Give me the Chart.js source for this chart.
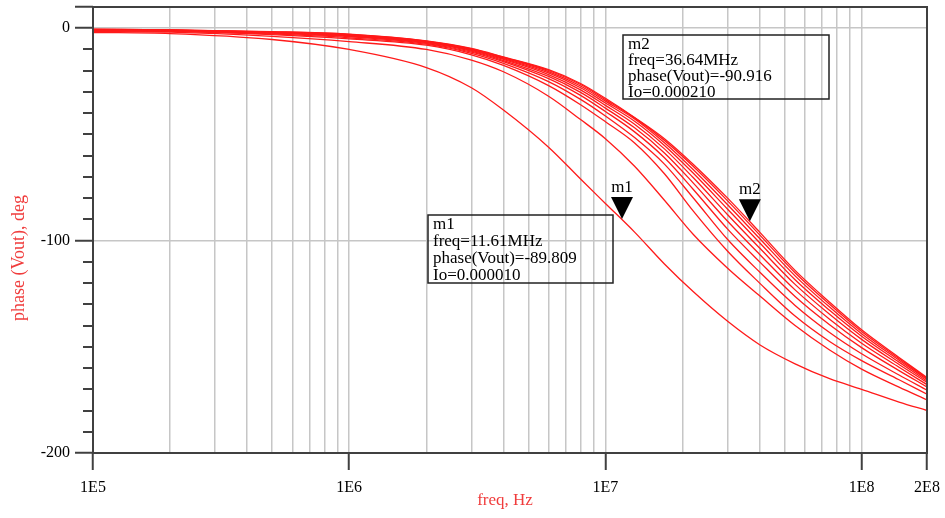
<!DOCTYPE html>
<html>
<head>
<meta charset="utf-8">
<script src="https://cdn.jsdelivr.net/npm/chart.js@4.4.1/dist/chart.umd.min.js"></script>
<style>
  html, body { margin: 0; padding: 0; background: #fff; }
  canvas { display: block; }
</style>
</head>
<body>
<canvas id="phaseChart" width="945" height="518"></canvas>
<script>
// frequency points (Hz)
const freqs = [1e5, 2e5, 5e5, 1e6, 2e6, 3e6, 4e6, 6e6, 8e6, 1e7, 1.3e7, 1.7e7, 2.2e7, 3e7, 4e7, 5.5e7, 7.5e7, 1e8, 1.4e8, 1.8e8];

// phase(Vout) in deg, one curve per Io sweep value
const io010 = [-2, -2.5, -5.3, -10, -18.5, -28, -38.5, -56, -71, -82.5, -96, -111, -124, -138, -149, -158, -165, -170, -176, -180];
const io030 = [-1.5, -1.8, -3.8, -6.3, -10, -15, -20.5, -32, -43, -52, -65, -81, -97, -113, -126, -140, -151.5, -160.5, -169, -175];
const io050 = [-1.2, -1.5, -3, -5, -8, -12.5, -17.5, -27, -36, -44, -54, -68.5, -86, -105, -120, -135.5, -147.5, -156.5, -165.5, -172.3];
const io070 = [-1.0, -1.3, -2.7, -4.5, -7.5, -11.8, -16.5, -25.1, -33.5, -41.3, -51.5, -64, -79.8, -99.5, -114.8, -130.5, -143.3, -153.3, -163.3, -170.4];
const io090 = [-0.9, -1.2, -2.4, -4.0, -7.1, -11.2, -15.7, -23.7, -31.6, -39.2, -48.8, -61, -75.8, -94.6, -110, -126.3, -139.6, -150.4, -161.2, -168.9];
const io110 = [-0.8, -1.1, -2.2, -3.7, -6.8, -10.8, -15.2, -22.7, -30.2, -37.6, -46.9, -58.7, -72.8, -90.9, -106.5, -123.2, -137, -148.3, -159.6, -167.8];
const io130 = [-0.7, -1.0, -2.0, -3.5, -6.6, -10.4, -14.7, -21.8, -29, -36.3, -45.2, -56.8, -70.3, -87.8, -103.5, -120.6, -134.7, -146.5, -158.3, -166.8];
const io150 = [-0.6, -0.9, -1.9, -3.2, -6.4, -10.1, -14.3, -21, -28, -35.2, -43.8, -55.2, -68.2, -85.2, -101, -118.4, -132.8, -145, -157.2, -166.1];
const io170 = [-0.6, -0.9, -1.8, -3.1, -6.2, -9.9, -14, -20.4, -27.2, -34.3, -42.7, -53.9, -66.5, -83.1, -99, -116.6, -131.3, -143.8, -156.3, -165.4];
const io190 = [-0.5, -0.8, -1.7, -2.9, -6.1, -9.7, -13.7, -19.9, -26.5, -33.6, -42.2, -52.8, -65, -81.3, -97.3, -115.1, -130, -142.8, -155.6, -164.9];
const io210 = [-0.5, -0.8, -1.6, -2.8, -6, -9.5, -13.5, -19.5, -26, -33, -42, -52, -64, -80, -96, -114, -129, -142, -155, -164.5];

const allSeries = [io010, io030, io050, io070, io090, io110, io130, io150, io170, io190, io210];

// axis ticks
const xTickValues = [1e5, 1e6, 1e7, 1e8, 1.8e8];
const xTickLabels = ['1E5', '1E6', '1E7', '1E8', '2E8'];
const yTickValues = [0, -100, -200];

// markers
const markerNames = ['m1', 'm2'];
const markerFreqs = [11.61e6, 36.64e6];
const markerFreqText = ['11.61MHz', '36.64MHz'];
const markerPhases = [-89.809, -90.916];
const markerIo = ['0.000010', '0.000210'];

const SERIF = '"Liberation Serif", "Times New Roman", serif';
const AXIS_COLOR = '#404040';
const GRID_COLOR = '#c6c6c6';

// minor log grid positions
const xGrid = [];
[1e5, 1e6, 1e7].forEach(d => { for (let m = 1; m < 10; m++) xGrid.push(m * d); });
xGrid.push(1e8, 1.8e8);

const datasets = allSeries.map((vals, i) => ({
  label: 'Io' + i,
  data: freqs.map((f, j) => ({ x: f, y: vals[j] })),
  borderColor: '#ff1a1a',
  borderWidth: 1.3,
  pointRadius: 0,
  fill: false,
  cubicInterpolationMode: 'monotone'
}));

const extras = {
  id: 'extras',
  afterDraw(chart) {
    const { ctx, chartArea: a, scales } = chart;
    const xs = scales.x, ys = scales.y;
    ctx.save();

    // frame
    ctx.strokeStyle = AXIS_COLOR;
    ctx.lineWidth = 2;
    ctx.strokeRect(a.left, a.top, a.right - a.left, a.bottom - a.top);

    // minor y ticks
    for (let v = -190; v < 0; v += 10) {
      if (v === -100) continue;
      const y = Math.round(ys.getPixelForValue(v));
      ctx.beginPath();
      ctx.moveTo(a.left - 10, y);
      ctx.lineTo(a.left, y);
      ctx.stroke();
    }

    // markers
    ctx.fillStyle = '#000';
    ctx.font = '17px ' + SERIF;
    ctx.textAlign = 'center';
    ctx.textBaseline = 'alphabetic';
    markerNames.forEach((name, i) => {
      const px = xs.getPixelForValue(markerFreqs[i]);
      const py = ys.getPixelForValue(markerPhases[i]);
      ctx.beginPath();
      ctx.moveTo(px, py);
      ctx.lineTo(px - 11, py - 22);
      ctx.lineTo(px + 11, py - 22);
      ctx.closePath();
      ctx.fill();
      ctx.fillText(name, px, py - 27);
    });

    // readout boxes
    const boxes = [[428, 215, 185, 68, 17], [623, 35, 206, 64, 16]];
    ctx.textAlign = 'left';
    markerNames.forEach((name, i) => {
      const [bx, by, bw, bh, lh] = boxes[i];
      ctx.strokeStyle = '#222';
      ctx.lineWidth = 1.5;
      ctx.strokeRect(bx, by, bw, bh);
      const lines = [name, 'freq=' + markerFreqText[i],
        'phase(Vout)=' + markerPhases[i].toFixed(3), 'Io=' + markerIo[i]];
      lines.forEach((t, k) => ctx.fillText(t, bx + 5, by + 14 + k * lh));
    });

    // axis titles
    ctx.fillStyle = '#f03c3c';
    ctx.font = '17px ' + SERIF;
    ctx.textAlign = 'center';
    ctx.fillText('freq, Hz', (a.left + a.right) / 2 - 5, 505);
    ctx.font = '18px ' + SERIF;
    ctx.translate(24, 258);
    ctx.rotate(-Math.PI / 2);
    ctx.fillText('phase (Vout), deg', 0, 0);
    ctx.restore();
  }
};

new Chart(document.getElementById('phaseChart'), {
  type: 'line',
  data: { datasets },
  plugins: [extras],
  options: {
    responsive: false,
    animation: false,
    layout: { padding: 0 },
    plugins: { legend: { display: false }, tooltip: { enabled: false } },
    scales: {
      x: {
        type: 'logarithmic',
        min: 1e5,
        max: 1.8e8,
        afterBuildTicks: s => { s.ticks = xGrid.map(v => ({ value: v })); },
        afterFit: s => {
          s.height = 65;
          s.paddingLeft = 0;
          s.paddingRight = 18;
        },
        border: { display: false },
        grid: {
          color: GRID_COLOR,
          lineWidth: 1.5,
          drawTicks: true,
          tickLength: 17,
          tickWidth: 2,
          tickColor: c => xTickValues.includes(c.tick.value) ? AXIS_COLOR : 'rgba(0,0,0,0)'
        },
        ticks: {
          autoSkip: false,
          maxRotation: 0,
          padding: 8,
          color: '#000',
          font: { family: SERIF, size: 16 },
          callback: v => {
            const k = xTickValues.indexOf(v);
            return k >= 0 ? xTickLabels[k] : '';
          }
        }
      },
      y: {
        min: -200,
        max: 10,
        afterFit: s => {
          s.width = 93;
          s.paddingTop = 7;
          s.paddingBottom = 0;
        },
        border: { display: false },
        grid: {
          color: c => (c.tick.value === 0 || c.tick.value === -100) ? GRID_COLOR : 'rgba(0,0,0,0)',
          lineWidth: 1.5,
          drawTicks: true,
          tickLength: 18,
          tickWidth: 2,
          tickColor: c => (yTickValues.includes(c.tick.value) || c.tick.value === 10) ? AXIS_COLOR : 'rgba(0,0,0,0)'
        },
        ticks: {
          stepSize: 10,
          autoSkip: false,
          padding: 5,
          color: '#000',
          font: { family: SERIF, size: 16 },
          callback: v => yTickValues.includes(v) ? String(v) : ''
        }
      }
    }
  }
});
</script>
</body>
</html>
